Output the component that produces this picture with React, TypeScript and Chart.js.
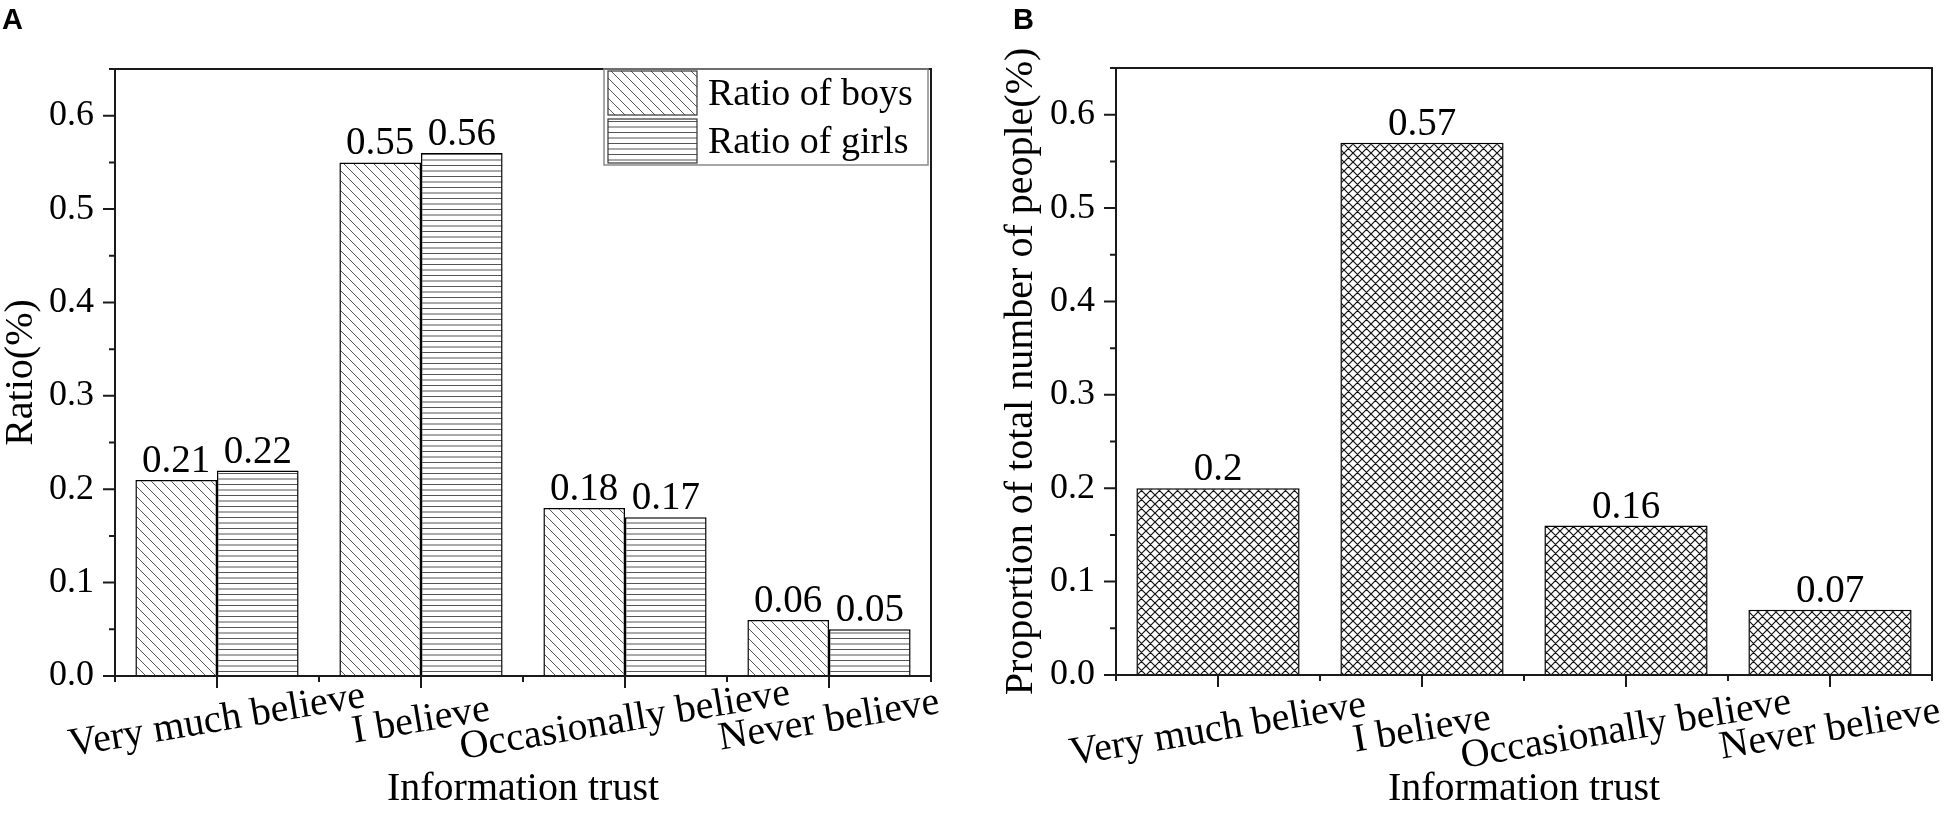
import { useEffect, useRef } from 'react'
import { Chart, BarController, BarElement, LinearScale, CategoryScale, type Plugin } from 'chart.js'

Chart.register(BarController, BarElement, LinearScale, CategoryScale)

// Information trust survey, two panels: (A) by gender, (B) total

const categories = ['Very much believe', 'I believe', 'Occasionally believe', 'Never believe']
const boysRatio = [0.21, 0.55, 0.18, 0.06]
const girlsRatio = [0.22, 0.56, 0.17, 0.05]
const totalProportion = [0.2, 0.57, 0.16, 0.07]

const Y_MAX = 0.65
const Y_STEP = 0.1
const Y_MINOR = 0.05

const SERIF = '"Liberation Serif", "Times New Roman", serif'
const SANS = '"Liberation Sans", Arial, sans-serif'

type Hatch = 'diag' | 'horiz' | 'cross'

function makePattern(ctx: CanvasRenderingContext2D, kind: Hatch): CanvasPattern | string {
  const tile = document.createElement('canvas')
  const t = tile.getContext('2d')!
  if (kind === 'diag') {
    tile.width = 10; tile.height = 10
    t.fillStyle = '#fff'; t.fillRect(0, 0, 10, 10)
    t.strokeStyle = '#555'; t.lineWidth = 1
    t.beginPath()
    t.moveTo(-1, -1); t.lineTo(11, 11)
    t.moveTo(-1, 9); t.lineTo(1, 11)
    t.moveTo(9, -1); t.lineTo(11, 1)
    t.stroke()
  } else if (kind === 'horiz') {
    tile.width = 8; tile.height = 11
    t.fillStyle = '#fff'; t.fillRect(0, 0, 8, 11)
    t.strokeStyle = '#555'; t.lineWidth = 1
    t.beginPath()
    t.moveTo(0, 0.5); t.lineTo(8, 0.5)
    t.moveTo(0, 6); t.lineTo(8, 6)
    t.stroke()
  } else {
    tile.width = 9; tile.height = 9
    t.fillStyle = '#fff'; t.fillRect(0, 0, 9, 9)
    t.strokeStyle = '#111'; t.lineWidth = 1.2
    t.beginPath()
    t.moveTo(-1, -1); t.lineTo(10, 10)
    t.moveTo(-1, 8); t.lineTo(1, 10)
    t.moveTo(8, -1); t.lineTo(10, 1)
    t.moveTo(10, -1); t.lineTo(-1, 10)
    t.moveTo(1, -1); t.lineTo(-1, 1)
    t.moveTo(10, 8); t.lineTo(8, 10)
    t.stroke()
  }
  return ctx.createPattern(tile, 'repeat') ?? '#ccc'
}

const decor: Plugin<'bar'> = {
  id: 'decor',
  afterDraw(chart, _args, o: any) {
    const { ctx, chartArea: a } = chart
    const xs = chart.scales.x
    const ys = chart.scales.y
    const labels = (chart.data.labels ?? []) as string[]
    ctx.save()

    // frame
    ctx.strokeStyle = '#1a1a1a'
    ctx.lineWidth = 2
    ctx.strokeRect(a.left, a.top, a.right - a.left, a.bottom - a.top)

    // ticks, major and minor
    ctx.beginPath()
    for (let i = 0; i * Y_MINOR <= Y_MAX + 1e-9; i++) {
      const py = ys.getPixelForValue(i * Y_MINOR)
      const len = i % 2 === 0 ? 12 : 6
      ctx.moveTo(a.left, py); ctx.lineTo(a.left - len, py)
    }
    for (let i = 0; i < labels.length; i++) {
      const px = xs.getPixelForValue(i)
      ctx.moveTo(px, a.bottom); ctx.lineTo(px, a.bottom + 12)
    }
    for (let i = 0; i <= labels.length; i++) {
      const px = xs.getPixelForValue(i - 0.5)
      ctx.moveTo(px, a.bottom); ctx.lineTo(px, a.bottom + 6)
    }
    ctx.stroke()

    ctx.fillStyle = '#000'

    // slanted category labels
    ctx.font = `40px ${SERIF}`
    ctx.textAlign = 'center'
    ctx.textBaseline = 'middle'
    labels.forEach((lab, i) => {
      ctx.save()
      ctx.translate(xs.getPixelForValue(i), a.bottom + o.labelDy)
      ctx.rotate(-9.5 * Math.PI / 180)
      ctx.fillText(lab, 0, 0)
      ctx.restore()
    })

    // x axis title
    ctx.textBaseline = 'alphabetic'
    ctx.fillText(o.xTitle, (a.left + a.right) / 2, 800)

    // values over bars
    ctx.font = `39px ${SERIF}`
    chart.data.datasets.forEach((ds, d) => {
      chart.getDatasetMeta(d).data.forEach((el: any, i) => {
        ctx.fillText(String(ds.data[i]), el.x, el.y - 8)
      })
    })

    // panel letter
    ctx.font = `bold 29px ${SANS}`
    ctx.textAlign = 'left'
    ctx.fillText(o.letter, o.letterX, 29)

    // legend box
    if (o.legend) {
      const L = o.legend
      ctx.strokeStyle = '#8a8a8a'
      ctx.lineWidth = 1.5
      ctx.strokeRect(L.x, L.y, L.w, L.h)
      ctx.font = `38px ${SERIF}`
      chart.data.datasets.forEach((ds: any, d) => {
        const ry = L.y + 2 + d * 48
        ctx.fillStyle = ds.backgroundColor
        ctx.fillRect(L.x + 4, ry, 89, 44)
        ctx.strokeStyle = '#333'
        ctx.lineWidth = 1.2
        ctx.strokeRect(L.x + 4, ry, 89, 44)
        ctx.fillStyle = '#000'
        ctx.fillText(ds.label, L.x + 104, ry + 34)
      })
    }
    ctx.restore()
  },
}

function buildChart(
  canvas: HTMLCanvasElement,
  datasets: { label: string; data: number[]; hatch: Hatch }[],
  layout: { yWidth: number; xHeight: number; top: number; right: number; titlePad: number },
  yTitle: string,
  decorOpts: any,
) {
  const ctx = canvas.getContext('2d')!
  return new Chart(canvas, {
    type: 'bar',
    data: {
      labels: categories,
      datasets: datasets.map(ds => ({
        label: ds.label,
        data: ds.data,
        backgroundColor: makePattern(ctx, ds.hatch) as any,
        borderColor: '#000',
        borderWidth: 1.5,
        categoryPercentage: 0.8,
        barPercentage: 1.0,
      })),
    },
    options: {
      responsive: false,
      devicePixelRatio: 1,
      animation: false,
      layout: { padding: { left: 0, top: layout.top, right: layout.right, bottom: 0 } },
      scales: {
        x: {
          afterFit: (s: any) => { s.height = layout.xHeight },
          grid: { display: false, drawTicks: false },
          border: { display: false },
          ticks: { display: false },
        },
        y: {
          min: 0,
          max: Y_MAX,
          afterFit: (s: any) => { s.width = layout.yWidth },
          grid: { display: false, drawTicks: false },
          border: { display: false },
          ticks: {
            stepSize: Y_STEP,
            includeBounds: false,
            padding: 21,
            color: '#000',
            font: { size: 36, family: SERIF },
            callback: (v) => (Math.abs(Number(v) / Y_STEP - Math.round(Number(v) / Y_STEP)) < 1e-6 ? Number(v).toFixed(1) : ''),
          },
          title: {
            display: true,
            text: yTitle,
            color: '#000',
            font: { size: 40, family: SERIF, lineHeight: 1 },
            padding: { top: layout.titlePad, bottom: 0 },
          },
        },
      },
      plugins: {
        legend: { display: false },
        tooltip: { enabled: false },
        decor: decorOpts,
      } as any,
    },
    plugins: [decor],
  })
}

export default function App() {
  const refA = useRef<HTMLCanvasElement>(null)
  const refB = useRef<HTMLCanvasElement>(null)

  useEffect(() => {
    document.body.style.margin = '0'
    if (!refA.current || !refB.current) return
    const a = buildChart(
      refA.current,
      [
        { label: 'Ratio of boys', data: boysRatio, hatch: 'diag' },
        { label: 'Ratio of girls', data: girlsRatio, hatch: 'horiz' },
      ],
      { yWidth: 115, xHeight: 140, top: 69, right: 44, titlePad: 1.5 },
      'Ratio(%)',
      { labelDy: 45, xTitle: 'Information trust', letter: 'A', letterX: 2, legend: { x: 604, y: 69, w: 324, h: 96 } },
    )
    const b = buildChart(
      refB.current,
      [{ label: 'Proportion of total number of people', data: totalProportion, hatch: 'cross' }],
      { yWidth: 141, xHeight: 141, top: 68, right: 19, titlePad: 26 },
      'Proportion of total number of people(%)',
      { labelDy: 55, xTitle: 'Information trust', letter: 'B', letterX: 38 },
    )
    return () => { a.destroy(); b.destroy() }
  }, [])

  return (
    <div style={{ position: 'relative', width: 1951, height: 816, background: '#fff' }}>
      <canvas ref={refA} width={975} height={816} style={{ position: 'absolute', left: 0, top: 0 }} />
      <canvas ref={refB} width={976} height={816} style={{ position: 'absolute', left: 975, top: 0 }} />
    </div>
  )
}
